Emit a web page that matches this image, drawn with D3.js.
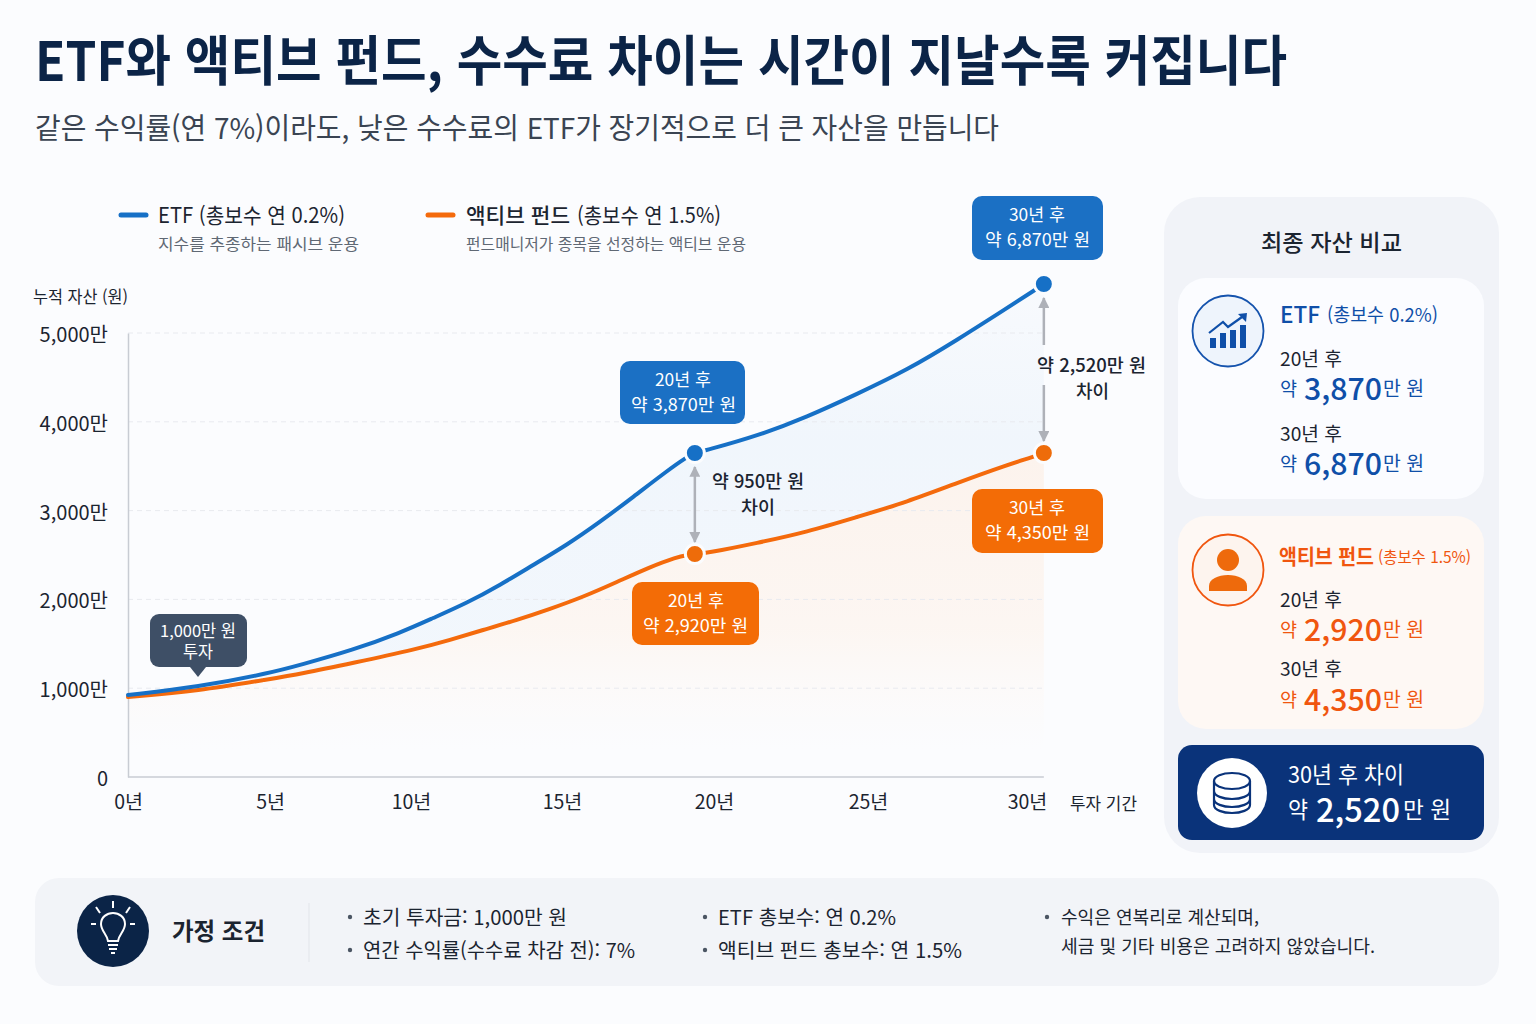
<!DOCTYPE html>
<html lang="ko">
<head>
<meta charset="utf-8">
<title>ETF와 액티브 펀드</title>
<script src="https://cdn.jsdelivr.net/npm/d3@7"></script>
<style>
  html, body { margin: 0; padding: 0; background: #fbfcfe; }
  svg { display: block; font-family: "Noto Sans CJK KR", "Noto Sans", sans-serif; }
</style>
</head>
<body>
<svg id="chart" width="1536" height="1024"></svg>
<script>
// axis ticks as labelled in the picture
const xTicks = [0, 5, 10, 15, 20, 25, 30]
const yTicks = [0, 1000, 2000, 3000, 4000, 5000]

// curves (years, 만 원)
const etfYears = [0, 2.46, 5, 6.06, 7.94, 9.61, 10.73, 11.85, 12.95, 14.04, 15.16, 16.25, 17.34, 18.45, 19.11, 19.37, 19.77, 21.4, 23.02, 24.64, 26.23, 27.8, 29.37, 30.25, 30.53]
const etfValues = [923, 1013, 1171, 1261, 1430, 1622, 1790, 1959, 2162, 2387, 2613, 2872, 3153, 3446, 3604, 3649, 3682, 3840, 4054, 4313, 4583, 4921, 5281, 5484, 5552]
const activeYears = [0, 2.46, 5, 6.06, 7.94, 10.2, 11.29, 12.38, 13.51, 14.6, 15.69, 16.81, 17.89, 18.78, 19.11, 19.37, 19.77, 21.4, 23.02, 24.64, 26.23, 27.8, 29.37, 30.19, 30.53]
const activeValues = [901, 968, 1104, 1160, 1284, 1441, 1543, 1655, 1768, 1892, 2027, 2196, 2365, 2477, 2500, 2511, 2522, 2635, 2759, 2928, 3097, 3311, 3513, 3604, 3649]

// printed amounts (만 원) after 20 and 30 years
const etfFinal = [3870, 6870]
const activeFinal = [2920, 4350]
const gaps = [950, 2520]
const horizons = [20, 30]
const dotIdx = [15, 24]

const assumptionsA = ['초기 투자금: 1,000만 원', '연간 수익률(수수료 차감 전): 7%']
const assumptionsB = ['ETF 총보수: 연 0.2%', '액티브 펀드 총보수: 연 1.5%']
const assumptionsC = ['수익은 연복리로 계산되며,', '세금 및 기타 비용은 고려하지 않았습니다.']

const BLUE = '#1670c6'
const ORANGE = '#f46a0c'
const NAVY = '#0b2447'
const fmt = d3.format(',')

const svg = d3.select('#chart')
const defs = svg.append('defs')

function vGrad(id, stops, span) {
  const g = defs.append('linearGradient').attr('id', id)
    .attr('gradientUnits', 'userSpaceOnUse')
    .attr('x1', 0).attr('x2', 0).attr('y1', span[0]).attr('y2', span[1])
  stops.forEach(s => g.append('stop').attr('offset', s[0]).attr('stop-color', s[1]).attr('stop-opacity', s[2]))
}
vGrad('fillBlue', [[0, '#e6eff9', 0.15], [0.5, '#e6f0fa', 0.5], [1, '#eaf2fb', 0.55]], [284, 600])
vGrad('fillOrange', [[0, '#fde8d8', 0.45], [0.6, '#feefe4', 0.45], [1, '#fff6ef', 0]], [453, 750])

// text squeezed to the width it has in the picture
function txt(parent, str, x1, x2, cy, size, weight, fill) {
  return parent.append('text')
    .attr('x', x1).attr('y', cy + 1).attr('dy', '0.35em')
    .attr('font-size', size).attr('font-weight', weight).attr('fill', fill)
    .attr('textLength', x2 - x1).attr('lengthAdjust', 'spacingAndGlyphs')
    .text(str)
}
function box(parent, x1, x2, y1, y2, r, fill) {
  return parent.append('rect').attr('x', x1).attr('y', y1)
    .attr('width', x2 - x1).attr('height', y2 - y1).attr('rx', r).attr('fill', fill)
}

svg.append('rect').attr('width', 1536).attr('height', 1024).attr('fill', '#fbfcfe')

// header
txt(svg, 'ETF와 액티브 펀드, 수수료 차이는 시간이 지날수록 커집니다', 35, 1287, 61, 54, 700, NAVY)
txt(svg, '같은 수익률(연 7%)이라도, 낮은 수수료의 ETF가 장기적으로 더 큰 자산을 만듭니다', 35, 999, 128, 29, 400, '#3a4452')

// legend
const legend = svg.append('g')
legend.append('line').attr('x1', 121).attr('x2', 146).attr('y1', 215).attr('y2', 215)
  .attr('stroke', BLUE).attr('stroke-width', 5).attr('stroke-linecap', 'round')
txt(legend, 'ETF (총보수 연 0.2%)', 158, 345, 215, 21, 400, '#1b2430')
txt(legend, '지수를 추종하는 패시브 운용', 158, 359, 243, 16, 400, '#5f6874')
legend.append('line').attr('x1', 428).attr('x2', 453).attr('y1', 215).attr('y2', 215)
  .attr('stroke', ORANGE).attr('stroke-width', 5).attr('stroke-linecap', 'round')
txt(legend, '액티브 펀드', 466, 570, 215, 21, 500, '#1b2430')
txt(legend, '(총보수 연 1.5%)', 577, 721, 215, 21, 400, '#1b2430')
txt(legend, '펀드매니저가 종목을 선정하는 액티브 운용', 466, 746, 243, 16, 400, '#5f6874')

// scales: tick labels in the picture are not evenly spaced
const x = d3.scaleLinear().domain(xTicks).range([128, 270, 411, 562, 714, 868, 1027])
const y = d3.scaleLinear().domain([0, 5000]).range([777, 333])
const endYear = etfYears[etfYears.length - 1]

const plot = svg.append('g')
const etf = etfYears.map((t, i) => [t, etfValues[i]])
const active = activeYears.map((t, i) => [t, activeValues[i]])
const lineGen = d3.line().x(d => x(d[0])).y(d => y(d[1])).curve(d3.curveBasis)

// shading under the orange line and between the two lines
const activeAt = d3.scaleLinear().domain(activeYears).range(activeValues)
plot.append('path')
  .attr('d', d3.area().x(d => x(d[0])).y0(d => y(activeAt(d[0]))).y1(d => y(d[1])).curve(d3.curveBasis)(etf))
  .attr('fill', 'url(#fillBlue)')
plot.append('path')
  .attr('d', d3.area().x(d => x(d[0])).y0(y(0)).y1(d => y(d[1])).curve(d3.curveBasis)(active))
  .attr('fill', 'url(#fillOrange)')

// grid
plot.append('g').selectAll('line').data(yTicks.slice(1)).join('line')
  .attr('x1', x(0)).attr('x2', x(endYear))
  .attr('y1', d => y(d)).attr('y2', d => y(d))
  .attr('stroke', '#e8eaef').attr('stroke-dasharray', '5 4')

// axes
const yAxis = d3.axisLeft(y).tickValues(yTicks).tickSize(0).tickPadding(20)
  .tickFormat(d => d === 0 ? '0' : fmt(d) + '만')
const xAxis = d3.axisBottom(x).tickValues(xTicks).tickSize(0).tickPadding(18)
  .tickFormat(d => d + '년')
const axisY = plot.append('g').attr('transform', `translate(${x(0)},0)`).call(yAxis)
const axisX = plot.append('g').attr('transform', `translate(0,${y(0)})`).call(xAxis)
axisY.selectAll('.domain').attr('stroke', '#c8ccd3').attr('stroke-width', 1.5)
axisX.select('.domain').attr('d', `M${x(0)},0H${x(endYear)}`).attr('stroke', '#c8ccd3').attr('stroke-width', 1.5)
axisY.selectAll('.tick text').attr('font-size', 20).attr('dy', '0.42em')
axisX.selectAll('.tick text').attr('font-size', 19.5)
svg.selectAll('.tick text').attr('font-family', '"Noto Sans CJK KR", sans-serif').attr('fill', '#1b2430')
txt(svg, '누적 자산 (원)', 33, 128, 296, 16.5, 400, '#1b2430')
txt(svg, '투자 기간', 1070, 1137, 803, 16.5, 400, '#1b2430')

// lines
plot.append('path').attr('d', lineGen(active)).attr('fill', 'none')
  .attr('stroke', ORANGE).attr('stroke-width', 4).attr('stroke-linecap', 'round')
plot.append('path').attr('d', lineGen(etf)).attr('fill', 'none')
  .attr('stroke', BLUE).attr('stroke-width', 4).attr('stroke-linecap', 'round')

// gap arrows
defs.append('marker').attr('id', 'head').attr('viewBox', '0 0 10 10')
  .attr('refX', 9).attr('refY', 5).attr('markerWidth', 11).attr('markerHeight', 11)
  .attr('markerUnits', 'userSpaceOnUse').attr('orient', 'auto-start-reverse')
  .append('path').attr('d', 'M0,0L10,5L0,10Z').attr('fill', '#aeb1b8')
function arrow(xp, y1, y2, start) {
  const l = plot.append('line').attr('x1', xp).attr('x2', xp).attr('y1', y1).attr('y2', y2)
    .attr('stroke', '#aeb1b8').attr('stroke-width', 2.5).attr('marker-end', 'url(#head)')
  if (start) l.attr('marker-start', 'url(#head)')
}
const x20 = x(etfYears[dotIdx[0]])
const x30 = x(etfYears[dotIdx[1]])
arrow(x20, y(etfValues[dotIdx[0]]) + 14, y(activeValues[dotIdx[0]]) - 12, true)
arrow(x30, 345, y(etfValues[dotIdx[1]]) + 14, false)
arrow(x30, 385, y(activeValues[dotIdx[1]]) - 12, false)

// dots
const dots = [
  { cx: x20, cy: y(etfValues[dotIdx[0]]), c: BLUE },
  { cx: x30, cy: y(etfValues[dotIdx[1]]), c: BLUE },
  { cx: x(activeYears[dotIdx[0]]), cy: y(activeValues[dotIdx[0]]), c: '#ee6c0a' },
  { cx: x(activeYears[dotIdx[1]]), cy: y(activeValues[dotIdx[1]]), c: '#ee6c0a' }
]
plot.selectAll('circle.dot').data(dots).join('circle').attr('class', 'dot')
  .attr('cx', d => d.cx).attr('cy', d => d.cy).attr('r', 9.5)
  .attr('fill', d => d.c).attr('stroke', '#fbfcfe').attr('stroke-width', 3)

// callouts
const notes = svg.append('g')
function callout(x1, x2, y1, y2, fill, year, amount, cx1, cx2) {
  box(notes, x1, x2, y1, y2, 10, fill)
  txt(notes, `${year}년 후`, cx1, cx1 + 56, y1 + 18, 17.5, 400, '#fff')
  txt(notes, `약 ${fmt(amount)}만 원`, cx2, cx2 + 105, y1 + 43, 17.5, 400, '#fff')
}
callout(972, 1103, 196, 260, '#1b70c4', horizons[1], etfFinal[1], 1009, 985)
callout(620, 745, 361, 424, '#1b70c4', horizons[0], etfFinal[0], 655, 631)
callout(632, 759, 582, 645, '#f36c06', horizons[0], activeFinal[0], 668, 643)
callout(972, 1103, 489, 553, '#f36c06', horizons[1], activeFinal[1], 1009, 985)

box(notes, 150, 247, 614, 667, 9, '#3e4f66')
notes.append('path').attr('d', 'M190,667L198,677L206,667Z').attr('fill', '#3e4f66')
txt(notes, '1,000만 원', 160, 236, 630, 16.5, 400, '#fff')
txt(notes, '투자', 183, 213, 651, 16.5, 400, '#fff')

txt(notes, `약 ${gaps[0]}만 원`, 712, 804, 481, 18.5, 500, '#1b2430')
txt(notes, '차이', 741, 775, 507, 18.5, 500, '#1b2430')
txt(notes, `약 ${fmt(gaps[1])}만 원`, 1037, 1146, 365, 18.5, 500, '#1b2430')
txt(notes, '차이', 1076, 1109, 391, 18.5, 500, '#1b2430')

// right panel
const side = svg.append('g')
box(side, 1164, 1499, 197, 853, 36, '#f1f3f8')
txt(side, '최종 자산 비교', 1261, 1402, 242, 23, 500, '#1b2430')
box(side, 1178, 1484, 278, 499, 28, '#fbfcff')
box(side, 1178, 1484, 516, 729, 28, '#fef8f4')
box(side, 1178, 1484, 745, 840, 14, '#0a337a')

function amountRow(yearLabel, amount, cy1, cy2, color) {
  txt(side, yearLabel, 1280, 1342, cy1, 19, 400, '#1b2430')
  txt(side, '약', 1280, 1297, cy2, 19, 400, color)
  txt(side, fmt(amount), 1304, 1382, cy2, 30, 500, color)
  txt(side, '만 원', 1383, 1424, cy2, 20, 400, color)
}
const ETF_TXT = '#0f4fa8'
const ACT_TXT = '#f0560f'
txt(side, 'ETF', 1280, 1320, 314, 23, 500, ETF_TXT)
txt(side, '(총보수 0.2%)', 1327, 1438, 314, 19, 400, ETF_TXT)
amountRow(`${horizons[0]}년 후`, etfFinal[0], 358, 388, ETF_TXT)
amountRow(`${horizons[1]}년 후`, etfFinal[1], 433, 463, ETF_TXT)
txt(side, '액티브 펀드', 1279, 1374, 556, 21, 700, ACT_TXT)
txt(side, '(총보수 1.5%)', 1378, 1471, 556, 16, 400, ACT_TXT)
amountRow(`${horizons[0]}년 후`, activeFinal[0], 599, 629, ACT_TXT)
amountRow(`${horizons[1]}년 후`, activeFinal[1], 668, 699, ACT_TXT)
txt(side, `${horizons[1]}년 후 차이`, 1288, 1404, 774, 23, 400, '#fff')
txt(side, '약', 1288, 1308, 809, 23, 400, '#fff')
txt(side, fmt(gaps[1]), 1316, 1400, 809, 33, 500, '#fff')
txt(side, '만 원', 1403, 1451, 809, 23, 400, '#fff')

// ETF icon
const ic1 = side.append('g').attr('transform', 'translate(1228,331)')
ic1.append('circle').attr('r', 35.5).attr('fill', '#eef4fc').attr('stroke', '#1553ad').attr('stroke-width', 1.8)
ic1.selectAll('rect').data([[-18, 10], [-8, 15], [2, 18], [12, 23]]).join('rect')
  .attr('x', d => d[0]).attr('y', d => 17 - d[1]).attr('width', 6).attr('height', d => d[1]).attr('fill', '#0f4fa8')
ic1.append('path').attr('d', 'M-19,2L-5,-9L0,-4L14,-14').attr('fill', 'none').attr('stroke', '#0f4fa8').attr('stroke-width', 2.2)
ic1.append('path').attr('d', 'M10,-17L19,-18L18,-9Z').attr('fill', '#0f4fa8')

// person icon
const ic2 = side.append('g').attr('transform', 'translate(1228,570)')
ic2.append('circle').attr('r', 35.5).attr('fill', '#fdf4ee').attr('stroke', '#f0560f').attr('stroke-width', 1.8)
ic2.append('circle').attr('cy', -10).attr('r', 11).attr('fill', '#ee6a0c')
ic2.append('path').attr('d', 'M-19,21V16C-19,9 -10,5 0,5C10,5 19,9 19,16V21Z').attr('fill', '#ee6a0c')

// coins icon
const ic3 = side.append('g').attr('transform', 'translate(1232,793)')
ic3.append('circle').attr('r', 35).attr('fill', '#fff')
ic3.append('ellipse').attr('cy', -12).attr('rx', 18).attr('ry', 8).attr('fill', 'none').attr('stroke', '#0a337a').attr('stroke-width', 2.2)
ic3.append('path').attr('d', 'M-18,-12V12C-18,17 -9,20 0,20C9,20 18,17 18,12V-12M-18,-2C-18,3 -9,6 0,6C9,6 18,3 18,-2M-18,6C-18,11 -9,14 0,14C9,14 18,11 18,6')
  .attr('fill', 'none').attr('stroke', '#0a337a').attr('stroke-width', 2.2)

// assumptions
const foot = svg.append('g')
box(foot, 35, 1499, 878, 986, 24, '#f2f4f8')
const ic4 = foot.append('g').attr('transform', 'translate(113,931)')
ic4.append('circle').attr('r', 36).attr('fill', NAVY)
ic4.append('path').attr('d', 'M-5,10C-6,3 -12,0 -12,-7C-12,-14 -6,-18 0,-18C6,-18 12,-14 12,-7C12,0 6,3 5,10Z')
  .attr('fill', 'none').attr('stroke', '#fff').attr('stroke-width', 2)
ic4.append('path').attr('d', 'M-5,14H5M-4,18H4M-2,22H2M0,-30V-23M-17,-24L-13,-18M17,-24L13,-18M-22,-7H-17M22,-7H17')
  .attr('stroke', '#fff').attr('stroke-width', 2).attr('fill', 'none')
txt(foot, '가정 조건', 172, 265, 931, 24, 700, '#1b2430')
foot.append('line').attr('x1', 309).attr('x2', 309).attr('y1', 903).attr('y2', 962).attr('stroke', '#e2e5ea')

foot.selectAll('circle.b').data([[350, 917], [350, 950], [705, 917], [705, 950], [1047, 917]]).join('circle')
  .attr('class', 'b').attr('cx', d => d[0]).attr('cy', d => d[1]).attr('r', 2.2).attr('fill', '#4b5563')
txt(foot, assumptionsA[0], 363, 567, 917, 20, 400, '#1b2430')
txt(foot, assumptionsA[1], 363, 635, 950, 20, 400, '#1b2430')
txt(foot, assumptionsB[0], 718, 896, 917, 20, 400, '#1b2430')
txt(foot, assumptionsB[1], 718, 962, 950, 20, 400, '#1b2430')
txt(foot, assumptionsC[0], 1061, 1259, 917, 18.5, 400, '#1b2430')
txt(foot, assumptionsC[1], 1061, 1375, 946, 18.5, 400, '#1b2430')
</script>
</body>
</html>
